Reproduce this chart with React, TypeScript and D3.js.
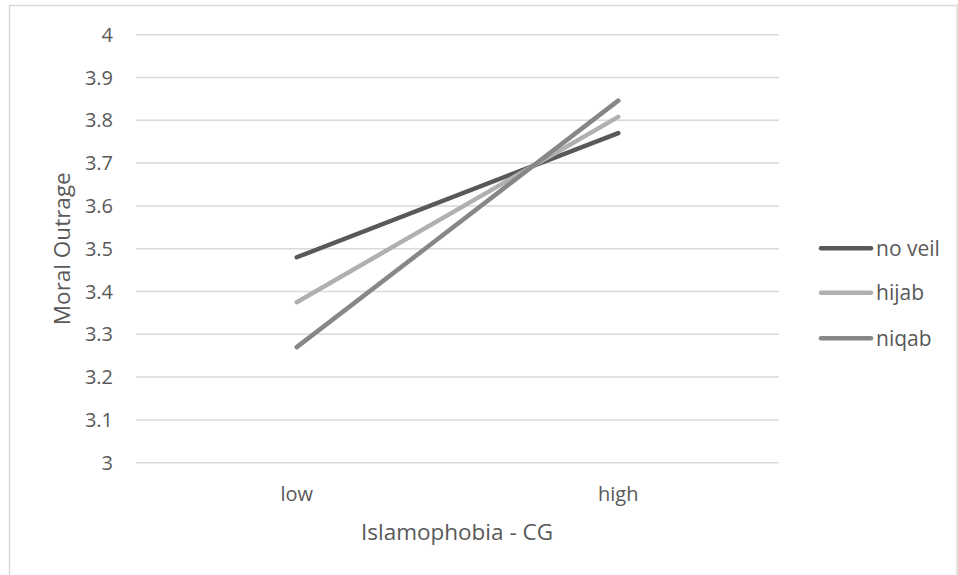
import React from "react";
import * as d3 from "d3";

// Interaction plot: moral outrage by Islamophobia level and veil condition
const categories = ["low", "high"];
const noVeil = [3.48, 3.77];
const hijab = [3.375, 3.808];
const niqab = [3.27, 3.846];
const seriesNames = ["no veil", "hijab", "niqab"];
const yTicks = [3, 3.1, 3.2, 3.3, 3.4, 3.5, 3.6, 3.7, 3.8, 3.9, 4];

const W = 958;
const H = 575;
const plot = { left: 136, right: 779, top: 34.7, bottom: 462.7 };
const colors = ["#595959", "#b0b0b0", "#878787"];
const textColor = "#595959";
const font = "'Open Sans', sans-serif";

export default function App() {
  const x = d3
    .scaleBand<string>()
    .domain(categories)
    .range([plot.left, plot.right]);
  const y = d3.scaleLinear().domain([3, 4]).range([plot.bottom, plot.top]);
  const cx = (c: string) => (x(c) ?? 0) + x.bandwidth() / 2;

  const series = [noVeil, hijab, niqab];
  const line = d3
    .line<number>()
    .x((_, i) => cx(categories[i]))
    .y((v) => y(v));

  const legendY = [248.3, 292.7, 338.3];

  return (
    <svg
      width={W}
      height={H}
      style={{ position: "absolute", left: 0, top: 0, background: "#fff" }}
      fontFamily={font}
    >
      <rect x={9.5} y={5.5} width={947.5} height={600} fill="#fff" stroke="#d9d9d9" strokeWidth={1.5} />

      {yTicks.map((t) => (
        <g key={t}>
          <line x1={plot.left} x2={plot.right} y1={y(t)} y2={y(t)} stroke="#d9d9d9" strokeWidth={1.5} />
          <text
            x={113}
            y={y(t)}
            dy="0.35em"
            textAnchor="end"
            fontSize={20}
            fill={textColor}
          >
            {d3.format("~g")(t)}
          </text>
        </g>
      ))}

      {categories.map((c) => (
        <text key={c} x={cx(c)} y={501} textAnchor="middle" fontSize={20} fill={textColor}>
          {c}
        </text>
      ))}

      {series.map((s, i) => (
        <path
          key={seriesNames[i]}
          d={line(s) ?? ""}
          fill="none"
          stroke={colors[i]}
          strokeWidth={4.5}
          strokeLinecap="round"
        />
      ))}

      <text x={457} y={540} textAnchor="middle" fontSize={22.5} fill={textColor}>
        Islamophobia - CG
      </text>
      <text
        transform={`translate(70, ${y(3.5)}) rotate(-90)`}
        textAnchor="middle"
        fontSize={22.5}
        fill={textColor}
      >
        Moral Outrage
      </text>

      {seriesNames.map((n, i) => (
        <g key={n}>
          <line
            x1={821}
            x2={871}
            y1={legendY[i]}
            y2={legendY[i]}
            stroke={colors[i]}
            strokeWidth={4.5}
            strokeLinecap="round"
          />
          <text x={876} y={legendY[i]} dy="0.35em" fontSize={21} fill={textColor}>
            {n}
          </text>
        </g>
      ))}
    </svg>
  );
}
